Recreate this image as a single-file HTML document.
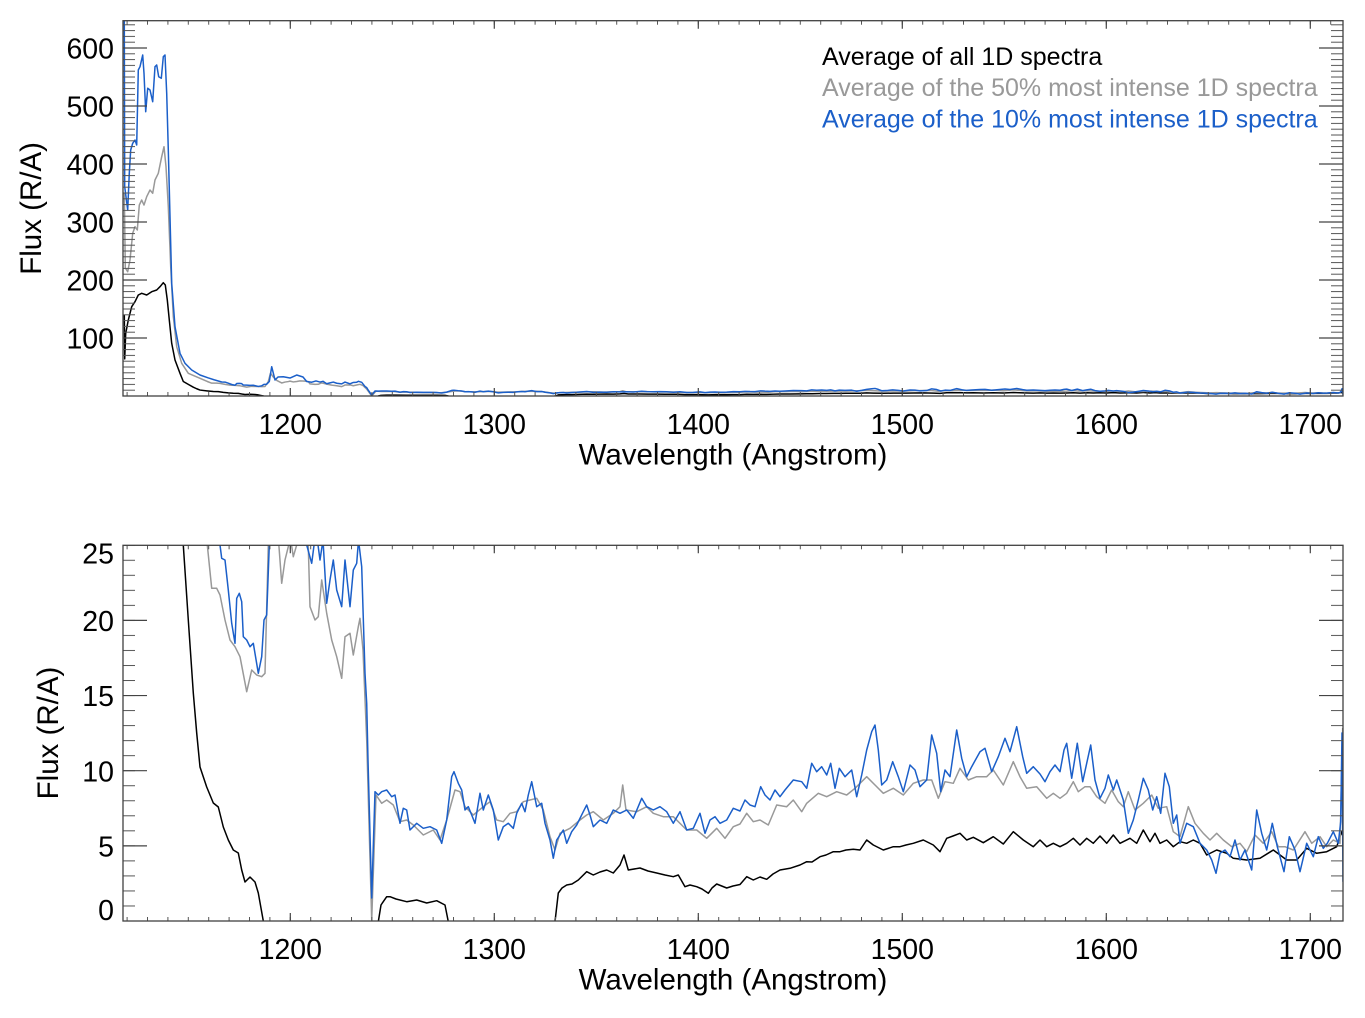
<!DOCTYPE html>
<html><head><meta charset="utf-8"><style>
html,body{margin:0;padding:0;background:#fff;}
svg{display:block;}
text{font-family:"Liberation Sans",Arial,sans-serif;}
</style></head><body>
<svg width="1365" height="1018" viewBox="0 0 1365 1018" xmlns="http://www.w3.org/2000/svg">
<defs>
<clipPath id="ct"><rect x="123" y="20.7" width="1220" height="375.3"/></clipPath>
<clipPath id="cb"><rect x="123" y="545.3" width="1220" height="375.7"/></clipPath>
<pattern id="px" patternUnits="userSpaceOnUse" x="126.6" y="0" width="20.4" height="10"><rect x="0" y="0" width="1" height="10" fill="#555"/></pattern>
<pattern id="pyt" patternUnits="userSpaceOnUse" x="0" y="395.5" width="10" height="5.8"><rect x="0" y="0" width="10" height="1" fill="#555"/></pattern>
<pattern id="pyb" patternUnits="userSpaceOnUse" x="0" y="920.5" width="10" height="15.03"><rect x="0" y="0" width="10" height="1" fill="#555"/></pattern>
<polyline id="sk" fill="none" stroke="#000" stroke-width="1.5" stroke-linejoin="round" vector-effect="non-scaling-stroke" points="124.3,-1178 124.7,-40 125.7,-704 126.7,-833 128.3,-1048 131.7,-1393 135,-1523 138.3,-1696 141.7,-1740 146.7,-1696 151.7,-1782 156.7,-1826 160,-1911 163.3,-2015 165.3,-1955 167.3,-1567 169.3,-1048 171.7,-445 175,-12 180,333 183.3,545.3 188.3,620 193.3,693 196.7,733 200,767 206.7,787 213.3,803 218.3,807 223.3,827 228.3,840 233.3,850 238.3,853 241.7,870 245,882 250,877 255,882 258.3,893 263.3,921 268,960 300,990 372,990 378.3,921.7 381,905 386.7,896.7 390,896.7 396,899 406.7,901.7 416.7,900 426.7,903 436.7,900.7 445,905 448.3,921.7 452,960 500,1000 550,960 555,921.7 558.3,893 562,888 566.7,885 572,884 578.3,880 586.7,871.7 593.3,875 600,872 606.7,870 613.3,873 620,865 624,855 628.3,870 640,868 648,871 656.7,873 665,875 673.3,876.7 678.3,875 685,886.7 690,885 696.7,886.7 702,889 708.3,893.3 712,888 716.7,884 726.7,888 733,886 740,884.5 746.7,876.7 753.3,880 760,877 766.7,879.3 773,874 780,870 790,868.3 800,865 806.7,861.7 812,862 820,856.7 826,855 833.3,851.7 840,851.7 846,850 853.3,849.3 860,850 866.7,840 873.3,845 883.3,850 893.3,846.7 900,846.7 906,845 913.3,843.3 923.3,840 933.3,845 940,851.7 946.7,838.3 953,836 960,833.3 966.7,840 973.3,837.3 983.3,842.7 993.3,836.7 1003.3,844 1013.3,831.7 1023.3,840 1033.3,846.7 1040,840 1046.7,846.7 1053.3,843.3 1060,846.7 1066.7,843.3 1073.3,838.3 1080,845 1086.7,838.3 1093.3,843.3 1100,836 1106.7,843.3 1113.3,835 1120,843.3 1130,838.3 1136.7,843.3 1143.3,830 1150,841.7 1155,833.3 1160,843.3 1166.7,840 1173.3,846.7 1180,841.7 1186.7,843.3 1193.3,840 1200,843.3 1206.7,855 1216.7,850 1226.7,853.3 1233.3,858.3 1246.7,860 1260,858.3 1273.3,850 1286.7,860 1296.7,860 1306.7,848.3 1316.7,853.3 1326.7,851.7 1336.7,846.7 1341.7,831.7 1343,836"/>
<polyline id="sg" fill="none" stroke="#999999" stroke-width="1.5" stroke-linejoin="round" vector-effect="non-scaling-stroke" points="124.3,-4339 125.3,-2400 127.7,-2300 130,-2603 132.7,-3295 135,-3466 137.3,-3381 139.3,-4028 141.7,-4158 144,-4028 146.7,-4244 150,-4417 152.7,-4332 155,-4676 158.3,-4850 161.7,-5280 164,-5539 166,-5021 168.3,-3985 170.7,-2430 173.3,-1134 176.7,-357 181.7,74 188.3,333 200,462 207.3,545 211.7,588.3 216.7,588.3 220,595 225,620 230,640 235,646.7 240,656.7 246.7,691.7 251.7,670 256.7,675 261.7,676.7 265,673.3 268.3,545 270.5,330 273,420 277,520 281.7,583.3 285,560 288.3,546.7 290,535 293.3,556.7 296.7,545 300,530 305,535 308.3,546.7 310,606.7 315,620 318.3,616.7 321.7,580 326.7,613.3 331.7,640 336.7,656.7 341.7,678.3 345,636.7 350,633.3 353.3,655 358.3,626.7 360,618.3 363,650 366.7,740 371.7,920 376,795 381.7,803.3 386.7,800 393.3,805 400,821.7 406.7,820 413.3,825 423.3,835 433.3,830 440,840 446.7,820 455,790 460,791.7 465,806.7 473.3,815 483.3,806.7 490,801.7 496.7,820 503.3,821.7 510,813.3 516.7,811.7 523.3,801.7 530,800 536.7,798.3 543.3,810 550,836.7 555,850 560,833.3 570,828.3 580,820 586.7,815 593.3,811.7 603.3,820 613.3,813.3 620,806.7 622.7,785 626,810 636.7,811.7 646.7,806.7 653.3,813.3 663.3,816.7 673.3,816.7 686.7,830 696.7,830 706.7,838.3 716.7,828.3 725,838.3 733.3,826.7 740,824 746.7,813.3 753.3,821.7 760,820 768.3,825 776.7,805 786.7,806.7 793.3,800 801.7,811.7 806.7,803.3 818.3,793.3 826.7,796.7 836.7,791.7 846.7,795 855,788.3 866.7,776.7 875,785 883.3,793.3 893.3,788.3 903.3,795 913.3,783.3 923.3,780 931.7,780 938.3,798.3 945,781.7 953.3,783.3 960,768.3 968.3,780 976.7,776.7 986.7,776.7 993.3,770 1003.3,785 1013.3,761.7 1020,776.7 1026.7,788.3 1036.7,786.7 1046.7,798.3 1053.3,793.3 1060,798.3 1066.7,793.3 1073.3,781.7 1078.3,791.7 1085,786.7 1090,786.7 1096.7,796.7 1105,803.3 1111.7,790 1118.3,801.7 1123.3,806.7 1128.3,791.7 1135,810 1143.3,803.3 1151.7,795 1158.3,808.3 1166.7,806.7 1173.3,831.7 1180,836.7 1188.3,806.7 1195,823.3 1203.3,833.3 1210,840 1216.7,833.3 1223.3,840 1231.7,846.7 1240,843.3 1246.7,851.7 1255,835 1263.3,843.3 1271.7,831.7 1278.3,846.7 1285,846.7 1293.3,850 1305,831.7 1311.7,843.3 1320,836.7 1326.7,846.7 1333.3,840 1340,843.3 1342.7,728"/>
<polyline id="sb" fill="none" stroke="#1b5fc9" stroke-width="1.5" stroke-linejoin="round" vector-effect="non-scaling-stroke" points="124.3,-8823 124.7,-4503 127.7,-3899 129.3,-4858 130.7,-5454 132.7,-5628 135,-5713 136.7,-5583 138.3,-7527 140,-7613 142.7,-7915 144,-7442 145.7,-6446 147.7,-7053 150,-7009 152.7,-6706 155,-7613 156.7,-7657 158.7,-7353 161.3,-7312 163.3,-7872 165,-7916 166.7,-6923 168.3,-5454 170,-3725 171.7,-2000 175,-875 180,-186 185,74 191.7,247 200,377 208,450 214,500 220,545 221.7,558.3 225,560 228.3,590 231.7,623.3 235,643.3 236.7,598.3 239.3,593.3 241.7,601.7 243.3,636.7 246.7,640 250,646.7 253.3,643.3 258.3,673.3 261.7,656.7 264,620 266.7,615 269.3,545 271.7,162 275,506 278,429 283.3,421 290,455 296.7,377 303,429 306.7,545 311.7,563.3 316,530 320,560 323,540 326.7,603.3 330,580 333.3,560 336.7,590 341.7,606.7 345,560 350,606.7 353.3,570 356.7,563.3 358.5,540 361.7,566.7 365,673.3 366.7,703.3 368,760 371.7,898 375,791.7 378.3,795 381.7,791.7 386.7,790 391.7,796.7 395,795 400,823.3 403.3,808.3 406.7,810 410,830 416.7,823.3 423.3,828.3 430,826.7 436.7,830 441.7,843.3 446.7,820 451.7,776.7 454,771.7 458.3,783.3 461.7,790 465,810 468.3,806.7 471.7,815 475,823.3 480,793.3 483.3,810 488.3,795 493.3,810 498.3,840 503.3,826.7 508.3,823.3 513.3,828.3 516.7,813.3 521.7,803.3 525,811.7 528.3,795 531.7,781.7 536.7,806.7 541.7,803.3 545,823.3 550,840 553.3,858.3 556.7,840 560,835 563.3,830 566.7,843.3 571.7,831.7 576.7,825 583.3,811.7 586.7,805 590,815 593.3,826.7 600,820 606.7,823.3 613.3,810 620,813.3 626.7,810 633.3,818.3 641.7,798.3 646.7,806.7 653.3,810 660,806.7 666.7,811.7 673.3,823.3 680,811.7 686.7,830 693.3,828.3 700,813.3 705,833.3 710,820 715,816.7 720,823.3 726.7,820 733.3,808.3 740,811 745,800 750,805 755,806.7 760.7,786.7 765,795 770,800 775,790 780,796.7 785,790 793.3,780 801.7,781.7 806.7,788.3 811.7,763.3 816.7,771.7 821.7,766.7 826.7,775 830.7,763.3 835,788.3 839.3,768.3 845,776.7 851.7,770 856.7,796.7 861.7,775 866.7,750 871.7,731.7 875,725 878.3,750 881.7,785 886.7,780 892.7,761.7 898.3,776.7 903.3,791.7 910,765 915,770 920,786.7 926.7,780 931.7,735 936.7,753.3 940.7,791.7 945,770 950,776.7 956.7,730 961.7,758.3 966.7,776.7 971.7,766.7 980,751.7 985,748.3 991.7,771.7 998.3,756.7 1005,738.3 1010,751.7 1016.7,726.7 1022.7,756.7 1026.7,773.3 1033.3,766.7 1040,774 1045,781.7 1050,771.7 1055,765 1060,771.7 1064,750 1066.7,743.3 1071.7,778.3 1077.3,743.3 1082.7,781.7 1086.7,763.3 1090.7,745 1095,780 1100,798.3 1105,788.3 1108.3,775 1113.3,790 1116.7,780 1123.3,800 1128.3,833.3 1133.3,820 1138.3,800 1143.3,778.3 1148.3,790 1152.7,810 1156.7,796.7 1160.7,813.3 1165,773.3 1169.3,786.7 1173.3,823.3 1176.7,815 1180,843.3 1186.7,823.3 1193.3,826.7 1200,843.3 1206.7,850 1211.7,860 1216,873.3 1220,853.3 1225,850 1230,856.7 1235,840 1240,860 1245,850 1251.7,870 1256.7,810 1261.7,833.3 1266.7,850 1272.3,823.3 1277.3,846.7 1284,871.7 1289.3,836.7 1295,850 1300,871.7 1306.7,843.3 1313.3,856.7 1318.3,836.7 1323.3,848.3 1327.3,843.3 1333.3,831.7 1338.3,843.3 1340.7,821.7 1342,733 1343,881.7"/>
</defs>
<rect width="1365" height="1018" fill="#fff"/>

<g clip-path="url(#ct)">
<g transform="matrix(1 0 0 0.03859 0 360.46)">
<use href="#sk"/><use href="#sg"/><use href="#sb"/>
</g>
</g>

<g clip-path="url(#cb)">
<use href="#sk"/><use href="#sg"/><use href="#sb"/>
</g>

<rect x="123" y="392" width="1220" height="4" fill="url(#px)"/>
<rect x="123" y="20.7" width="1220" height="4" fill="url(#px)"/>
<rect x="123" y="20.7" width="12" height="375.3" fill="url(#pyt)"/>
<rect x="1331" y="20.7" width="12" height="375.3" fill="url(#pyt)"/>
<path fill="none" stroke="#444" stroke-width="1.2" d="M290.3 396v-8M494.3 396v-8M698.3 396v-8M902.3 396v-8M1106.3 396v-8M1310.3 396v-8M290.3 20.7v8M494.3 20.7v8M698.3 20.7v8M902.3 20.7v8M1106.3 20.7v8M1310.3 20.7v8M123 338h24M123 280h24M123 222h24M123 164h24M123 106h24M123 48h24M1343 338h-24M1343 280h-24M1343 222h-24M1343 164h-24M1343 106h-24M1343 48h-24"/>
<rect x="123" y="20.7" width="1220" height="375.3" fill="none" stroke="#404040" stroke-width="1.3"/>

<rect x="123" y="917" width="1220" height="4" fill="url(#px)"/>
<rect x="123" y="545.3" width="1220" height="4" fill="url(#px)"/>
<rect x="123" y="545.3" width="12" height="375.7" fill="url(#pyb)"/>
<rect x="1331" y="545.3" width="12" height="375.7" fill="url(#pyb)"/>
<path fill="none" stroke="#444" stroke-width="1.2" d="M290.3 921v-8M494.3 921v-8M698.3 921v-8M902.3 921v-8M1106.3 921v-8M1310.3 921v-8M290.3 545.3v8M494.3 545.3v8M698.3 545.3v8M902.3 545.3v8M1106.3 545.3v8M1310.3 545.3v8M123 845.85h24M123 770.7h24M123 695.55h24M123 620.4h24M1343 845.85h-24M1343 770.7h-24M1343 695.55h-24M1343 620.4h-24"/>
<rect x="123" y="545.3" width="1220" height="375.7" fill="none" stroke="#404040" stroke-width="1.3"/>

<g font-size="28.5" fill="#000" text-anchor="end">
<text x="114" y="58.7">600</text>
<text x="114" y="116.7">500</text>
<text x="114" y="174.7">400</text>
<text x="114" y="232.7">300</text>
<text x="114" y="290.7">200</text>
<text x="114" y="348.7">100</text>
</g>
<g font-size="28.5" fill="#000" text-anchor="middle">
<text x="290.3" y="434">1200</text>
<text x="494.3" y="434">1300</text>
<text x="698.3" y="434">1400</text>
<text x="902.3" y="434">1500</text>
<text x="1106.3" y="434">1600</text>
<text x="1310.3" y="434">1700</text>
</g>
<text x="733" y="464.5" font-size="29.5" text-anchor="middle" fill="#000">Wavelength (Angstrom)</text>
<text transform="translate(41,208.4) rotate(-90)" font-size="29.5" text-anchor="middle" fill="#000">Flux (R/A)</text>

<g font-size="25">
<text x="822" y="65" fill="#000">Average of all 1D spectra</text>
<text x="822" y="96" fill="#999999">Average of the 50% most intense 1D spectra</text>
<text x="822" y="127.3" fill="#1b5fc9">Average of the 10% most intense 1D spectra</text>
</g>

<g font-size="28.5" fill="#000" text-anchor="end">
<text x="114" y="563.3">25</text>
<text x="114" y="631">20</text>
<text x="114" y="706.2">15</text>
<text x="114" y="781.4">10</text>
<text x="114" y="856.5">5</text>
<text x="114" y="920">0</text>
</g>
<g font-size="28.5" fill="#000" text-anchor="middle">
<text x="290.3" y="959">1200</text>
<text x="494.3" y="959">1300</text>
<text x="698.3" y="959">1400</text>
<text x="902.3" y="959">1500</text>
<text x="1106.3" y="959">1600</text>
<text x="1310.3" y="959">1700</text>
</g>
<text x="733" y="989.5" font-size="29.5" text-anchor="middle" fill="#000">Wavelength (Angstrom)</text>
<text transform="translate(58,733) rotate(-90)" font-size="29.5" text-anchor="middle" fill="#000">Flux (R/A)</text>
</svg>
</body></html>
